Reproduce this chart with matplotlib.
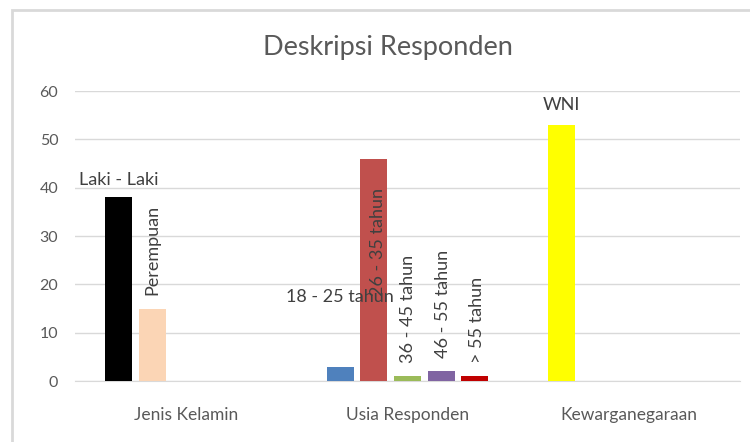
import matplotlib.pyplot as plt
from matplotlib.patches import Rectangle

# Data
categories = ["Jenis Kelamin", "Usia Responden", "Kewarganegaraan"]

jenis_labels = ["Laki - Laki", "Perempuan"]
jenis_values = [38, 15]

usia_labels = ["18 - 25 tahun", "26 - 35 tahun", "36 - 45 tahun", "46 - 55 tahun", "> 55 tahun"]
usia_values = [3, 46, 1, 2, 1]

warga_labels = ["WNI"]
warga_values = [53]

# Styling
jenis_colors = ["#000000", "#FBD5B5"]
usia_colors = ["#4F81BD", "#C0504D", "#9BBB59", "#8064A2", "#C00000"]
warga_colors = ["#FFFF00"]

# how each data label is drawn: (rotation, dx in px, dy, anchor mode)
# "top" = dy px above bar top, "abs" = centred at value dy
label_style = {
    "Laki - Laki": (0, 0, 9, "top"),
    "Perempuan": (90, 0, 14, "top"),
    "18 - 25 tahun": (0, 0, 17.4, "abs"),
    "26 - 35 tahun": (90, 4, 28.7, "abs"),
    "36 - 45 tahun": (90, 0, 13, "top"),
    "46 - 55 tahun": (90, 2, 13, "top"),
    "> 55 tahun": (90, 2, 13, "top"),
    "WNI": (0, 0, 12, "top"),
}

plt.rcParams["font.family"] = ["Lato", "DejaVu Sans"]

fig = plt.figure(figsize=(7.5, 4.42), dpi=100)
ax = fig.add_axes([0.1, 0.138, 0.8867, 0.656])

slot = 0.152
width = 0.122
groups = [
    (jenis_labels, jenis_values, jenis_colors),
    (usia_labels, usia_values, usia_colors),
    (warga_labels, warga_values, warga_colors),
]

for ci, (labels, values, colors) in enumerate(groups):
    for si, (lab, val, col) in enumerate(zip(labels, values, colors)):
        x = ci + (si - 2) * slot
        ax.bar(x, val, width=width, color=col, zorder=3)
        rot, dx, dy, mode = label_style[lab]
        if mode == "top":
            ax.annotate(lab, (x, val), xytext=(dx * 0.72, dy * 0.72),
                        textcoords="offset points", rotation=rot,
                        ha="center", va="bottom", fontsize=13,
                        color="#404040", zorder=4)
        else:
            ax.annotate(lab, (x, dy), xytext=(dx * 0.72, 0),
                        textcoords="offset points", rotation=rot,
                        ha="center", va="center", fontsize=13,
                        color="#404040", zorder=4)

ax.set_xlim(-0.5, 2.5)
ax.set_ylim(0, 60)
ax.set_yticks(range(0, 61, 10))
ax.set_xticks(range(len(categories)))
ax.set_xticklabels(categories)
ax.tick_params(axis="both", length=0, colors="#595959", labelsize=11.5)
ax.tick_params(axis="x", pad=19, labelsize=12.5)
ax.tick_params(axis="y", pad=12)
ax.yaxis.grid(True, color="#D9D9D9", lw=1, zorder=0)
for s in ["top", "right", "left"]:
    ax.spines[s].set_visible(False)
ax.spines["bottom"].set_color("#D9D9D9")

fig.text(0.517, 0.893, "Deskripsi Responden", ha="center", va="center",
         fontsize=19.5, color="#595959")

# outer chart frame (cropped on the right and bottom)
fig.patches.append(Rectangle((12 / 750, -0.1), 1.2, 1.1 - 10 / 442,
                             transform=fig.transFigure, fill=False,
                             edgecolor="#D9D9D9", lw=2))

fig.savefig("out.png", dpi=100)
